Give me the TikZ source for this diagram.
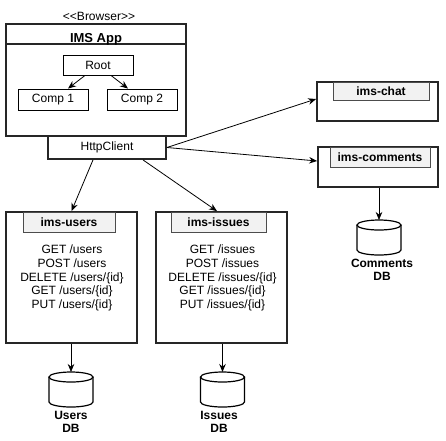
\documentclass[tikz,border=0pt]{standalone}
\usepackage{fontspec}
\setmainfont{Liberation Sans}
\usetikzlibrary{arrows.meta}
\begin{document}
\begin{tikzpicture}[x=1pt,y=-1pt,
  txt/.style={font=\fontsize{12}{13.8}\selectfont, inner sep=0pt},
  thick box/.style={draw=black!85, line width=1.8pt, inner sep=0pt},
  thin box/.style={draw=black, line width=0.9pt, inner sep=0pt, font=\fontsize{12}{14}\selectfont},
  hdr/.style={draw=black!70, fill=black!5, line width=0.8pt, inner sep=0pt, font=\bfseries\fontsize{12}{14}\selectfont},
  arr/.style={draw=black, line width=0.8pt, -{Stealth[length=8pt,width=6.5pt]}},
  dblabel/.style={align=center, font=\bfseries\fontsize{12}{13}\selectfont, inner sep=0pt},
  cyl/.style={draw=black, line width=1.2pt}
]
\useasboundingbox (0,0) rectangle (446,440);

% Browser / app
\node[txt] (browser) at (99,16) {<{}<Browser>{}>};
\node[thick box, minimum width=180pt, minimum height=112pt] (app) at (96,80) {};
\draw[black!85, line width=1.8pt] (6,44) -- (186,44);
\node[txt, font=\bfseries\fontsize{13}{14}\selectfont, anchor=base] (apptitle) at (96,42) {IMS App};

\node[thin box, minimum width=70pt, minimum height=20pt] (root) at (98,65) {Root};
\node[thin box, minimum width=70pt, minimum height=21pt] (comp1) at (53,99.5) {Comp 1};
\node[thin box, minimum width=70pt, minimum height=21pt] (comp2) at (142,99.5) {Comp 2};
\draw[arr] ([xshift=-13pt]root.south) -- ([xshift=15pt]comp1.north);
\draw[arr] ([xshift=13pt]root.south) -- ([xshift=-14pt]comp2.north);

\node[thick box, minimum width=118pt, minimum height=23pt, font=\fontsize{12}{14}\selectfont] (http) at (107,147.5) {HttpClient};

% chat
\node[thick box, minimum width=121pt, minimum height=39pt] (chat) at (377.5,101.5) {};
\node[hdr, minimum width=96pt, minimum height=18pt] (chathdr) at (381,91) {ims-chat};

% comments
\node[thick box, minimum width=120pt, minimum height=40pt] (comments) at (378,167) {};
\node[hdr, minimum width=100pt, minimum height=20pt] (commentshdr) at (380,157) {ims-comments};

% users
\node[thick box, minimum width=131pt, minimum height=131pt] (users) at (71.5,277.5) {};
\node[hdr, minimum width=92pt, minimum height=20pt] (usershdr) at (69,222) {ims-users};
\node[txt, align=center] (userstxt) at (72,278) {GET /users\\POST /users\\DELETE /users/\{id\}\\GET /users/\{id\}\\PUT /users/\{id\}};

% issues
\node[thick box, minimum width=131pt, minimum height=131pt] (issues) at (221.5,277.5) {};
\node[hdr, minimum width=95pt, minimum height=20pt] (issueshdr) at (218.5,222) {ims-issues};
\node[txt, align=center] (issuestxt) at (222.5,278) {GET /issues\\POST /issues\\DELETE /issues/\{id\}\\GET /issues/\{id\}\\PUT /issues/\{id\}};

% connectors from HttpClient
\draw[arr] ([xshift=-14pt]http.south) -- (users.north);
\draw[arr] ([xshift=36pt]http.south) -- ([xshift=-4.5pt]issues.north);
\draw[arr] (http.east) -- ([yshift=2.5pt]chat.west);
\draw[arr] (http.east) -- ([yshift=6pt]comments.west);

% databases
\newcommand{\dbcyl}[4]{% name, center x, top y, bottom y
  \coordinate (#1) at (#2,#3);
  \draw[cyl] (#2,#3+5) ellipse [x radius=22pt, y radius=5pt];
  \draw[cyl] (#2-22,#3+5) -- (#2-22,#4-5) arc[start angle=180, end angle=360, x radius=22pt, y radius=5pt] -- (#2+22,#3+5);
}
\dbcyl{usersdb}{71}{372}{407}
\dbcyl{issuesdb}{222.5}{372}{407}
\dbcyl{commentsdb}{379}{220}{255}

\node[dblabel, anchor=north] (usersdblbl) at (71,411.5) {Users\\DB};
\node[dblabel, anchor=north] (issuesdblbl) at (219,411.5) {Issues\\DB};
\node[dblabel, anchor=north] (commentsdblbl) at (382,258.5) {Comments\\DB};

\draw[arr] (users.south -| usersdb) -- (usersdb);
\draw[arr] (issues.south -| issuesdb) -- (issuesdb);
\draw[arr] (comments.south -| commentsdb) -- (commentsdb);
\end{tikzpicture}
\end{document}
